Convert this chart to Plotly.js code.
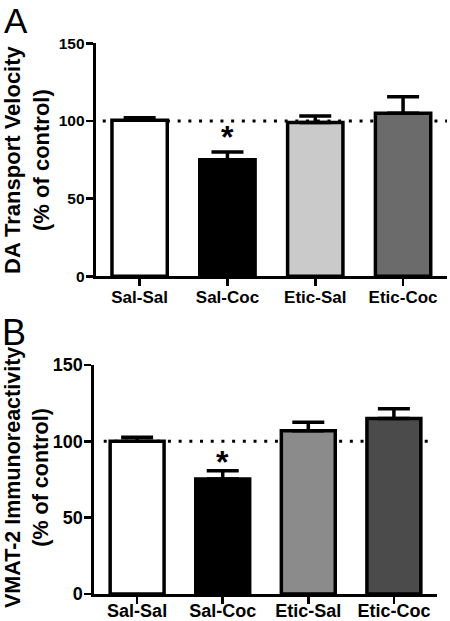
<!DOCTYPE html>
<html>
<head>
<meta charset="utf-8">
<script src="https://cdn.plot.ly/plotly-3.0.1.min.js"></script>
<style>html,body{margin:0;padding:0;background:#fff;}#chart{width:450px;height:621px;}</style>
</head>
<body>
<div id="chart"></div>
<script>
const categories = ['Sal-Sal', 'Sal-Coc', 'Etic-Sal', 'Etic-Coc'];
const velocityMean = [100.5, 75, 99, 105];
const velocityErr = [1.5, 5, 4.2, 10.5];
const vmatMean = [100, 75.4, 107, 115];
const vmatErr = [2.7, 5.4, 5.5, 6.3];
const velocityColors = ['#ffffff', '#000000', '#cacaca', '#6b6b6b'];
const vmatColors = ['#ffffff', '#000000', '#8b8b8b', '#4b4b4b'];
const yTicks = [0, 50, 100, 150];
const controlLevel = 100;

const FONT = 'Liberation Sans, Arial, sans-serif';
const LW = 3.5;

function barTrace(vals, errs, colors, xa, ya) {
  return {
    type: 'bar', x: categories, y: vals, xaxis: xa, yaxis: ya,
    width: 0.63,
    marker: {color: colors, line: {color: '#000', width: LW}},
    error_y: {type: 'data', symmetric: false, array: errs, arrayminus: errs.map(() => 0),
              color: '#000', thickness: LW, width: 16},
    hoverinfo: 'none', showlegend: false
  };
}

const data = [
  barTrace(velocityMean, velocityErr, velocityColors, 'x', 'y'),
  barTrace(vmatMean, vmatErr, vmatColors, 'x2', 'y2')
];

function xax(domain, anchor, size, standoff) {
  return {
    domain: domain, anchor: anchor, range: [-0.5, 3.5], type: 'category',
    showline: true, linecolor: '#000', linewidth: 3, mirror: false,
    ticks: 'outside', ticklen: 7, tickwidth: 2.5, tickcolor: '#000',
    ticklabelstandoff: standoff,
    showgrid: false, zeroline: false, fixedrange: true,
    tickfont: {family: FONT, size: size, color: '#000', weight: 'bold'}
  };
}
function yax(domain, anchor, size) {
  return {
    domain: domain, anchor: anchor, range: [0, 150],
    tickvals: yTicks, ticktext: yTicks.map(String),
    showline: true, linecolor: '#000', linewidth: 3,
    ticks: 'outside', ticklen: 7, tickwidth: 2.5, tickcolor: '#000',
    ticklabelstandoff: -2,
    showgrid: false, zeroline: false, fixedrange: true,
    tickfont: {family: FONT, size: size, color: '#000', weight: 'bold'}
  };
}

const layout = {
  width: 450, height: 621,
  margin: {l: 0, r: 0, t: 0, b: 0},
  paper_bgcolor: '#fff', plot_bgcolor: 'rgba(0,0,0,0)',
  bargap: 0.37,
  xaxis: xax([0.2127, 0.9933], 'y', 17, -4),
  yaxis: yax([0.5551, 0.9303], 'x', 15.5),
  xaxis2: xax([0.2096, 0.9704], 'y2', 18, -9),
  yaxis2: yax([0.0435, 0.4122], 'x2', 18),
  shapes: [
    {type: 'line', xref: 'x', yref: 'y', x0: -0.42, x1: 3.55, y0: controlLevel, y1: controlLevel,
     layer: 'below', line: {color: '#000', width: 3, dash: '3px,7.7px'}},
    {type: 'line', xref: 'x2', yref: 'y2', x0: -0.39, x1: 3.47, y0: controlLevel, y1: controlLevel,
     layer: 'below', line: {color: '#000', width: 3, dash: '3px,7.7px'}}
  ],
  annotations: [
    {text: 'A', xref: 'paper', yref: 'paper', x: 16/450, y: 1, xanchor: 'center', yanchor: 'top',
     borderpad: 0, showarrow: false, font: {family: FONT, size: 35, color: '#000'}},
    {text: 'B', xref: 'paper', yref: 'paper', x: 14/450, y: 1 - 332/621, xanchor: 'center', yanchor: 'middle',
     showarrow: false, font: {family: FONT, size: 36, color: '#000'}},
    {text: 'DA Transport Velocity<br>(% of control)', xref: 'paper', yref: 'paper',
     x: 27/450, y: 1 - 160/621, xanchor: 'center', yanchor: 'middle', textangle: -90,
     showarrow: false, font: {family: FONT, size: 22, color: '#000', weight: 'bold'}},
    {text: 'VMAT-2 Immunoreactivity<br>(% of control)', xref: 'paper', yref: 'paper',
     x: 27/450, y: 1 - 478/621, xanchor: 'center', yanchor: 'middle', textangle: -90,
     showarrow: false, font: {family: FONT, size: 21.5, color: '#000', weight: 'bold'}},
    {text: '*', xref: 'x', yref: 'y', x: categories[1], y: 89.6, xanchor: 'center', yanchor: 'middle',
     showarrow: false, font: {family: FONT, size: 32, color: '#000', weight: 'bold'}},
    {text: '*', xref: 'x2', yref: 'y2', x: categories[1], y: 86.6, xanchor: 'center', yanchor: 'middle',
     showarrow: false, font: {family: FONT, size: 32, color: '#000', weight: 'bold'}}
  ]
};

Plotly.newPlot('chart', data, layout, {displayModeBar: false, staticPlot: true});
</script>
</body>
</html>
